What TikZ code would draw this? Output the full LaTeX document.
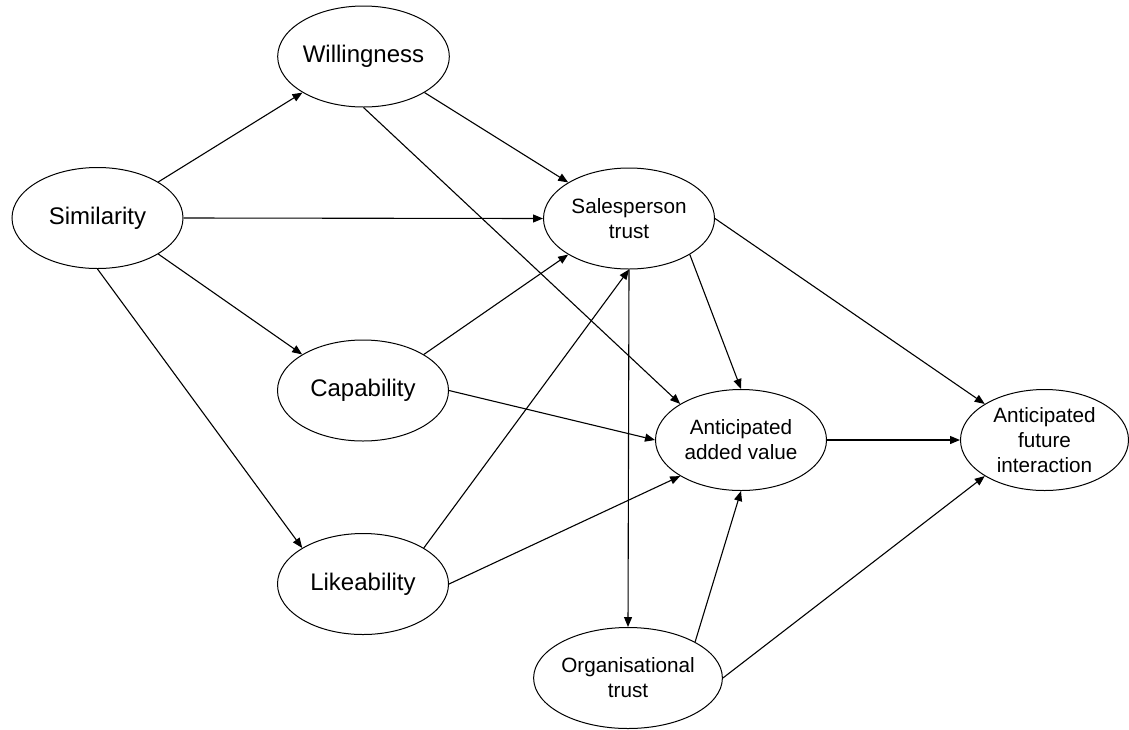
\documentclass[tikz,border=0pt]{standalone}
\usepackage{fontspec}
\setmainfont{Liberation Sans}
\usetikzlibrary{shapes.geometric,arrows.meta}

\begin{document}
\begin{tikzpicture}[x=1pt,y=-1pt,
  construct/.style={ellipse,draw,line width=1pt,minimum width=171pt,
    minimum height=101pt,inner sep=0pt,align=center},
  big/.style={font=\fontsize{24}{28}\selectfont},
  small/.style={font=\fontsize{20.7}{25}\selectfont},
  link/.style={-{Triangle[length=10pt,width=8pt]},line width=1.1pt}]

\useasboundingbox (0,0) rectangle (1129,729);

% constructs
\node[construct,big]   (sim)  at (97.5,218)   {Similarity};
\node[construct,big]   (will) at (363.5,56.5) {Willingness};
\node[construct,big]   (cap)  at (363,390.5)  {Capability};
\node[construct,big]   (like) at (363,584)    {Likeability};
\node[construct,small] (sp)   at (629,218.5)  {Salesperson\\trust};
\node[construct,small] (aav)  at (741,440)    {Anticipated\\added value};
\node[construct,small,minimum width=168pt] (afi) at (1044.5,440) {Anticipated\\future\\interaction};
\node[construct,small] (org)  at (628,678)    {Organisational\\trust};

% paths
\draw[link] (sim.north east) -- (will.south west);
\draw[link] (sim.east) -- (sp.west);
\draw[link] (sim.south east) -- (cap.north west);
\draw[link] (sim.south) -- (like.north west);
\draw[link] (will.south east) -- (sp.north west);
\draw[link] (will.south) -- (aav.north west);
\draw[link] (cap.north east) -- (sp.south west);
\draw[link] (cap.east) -- (aav.west);
\draw[link] (like.north east) -- (sp.south);
\draw[link] (like.east) -- (aav.south west);
\draw[link] (sp.south east) -- (aav.north);
\draw[link] (sp.east) -- (afi.north west);
\draw[link] (sp.south) -- (org.north);
\draw[link] (aav.east) -- (afi.west);
\draw[link] (org.north east) -- (aav.south);
\draw[link] (org.east) -- (afi.south west);
\end{tikzpicture}
\end{document}
